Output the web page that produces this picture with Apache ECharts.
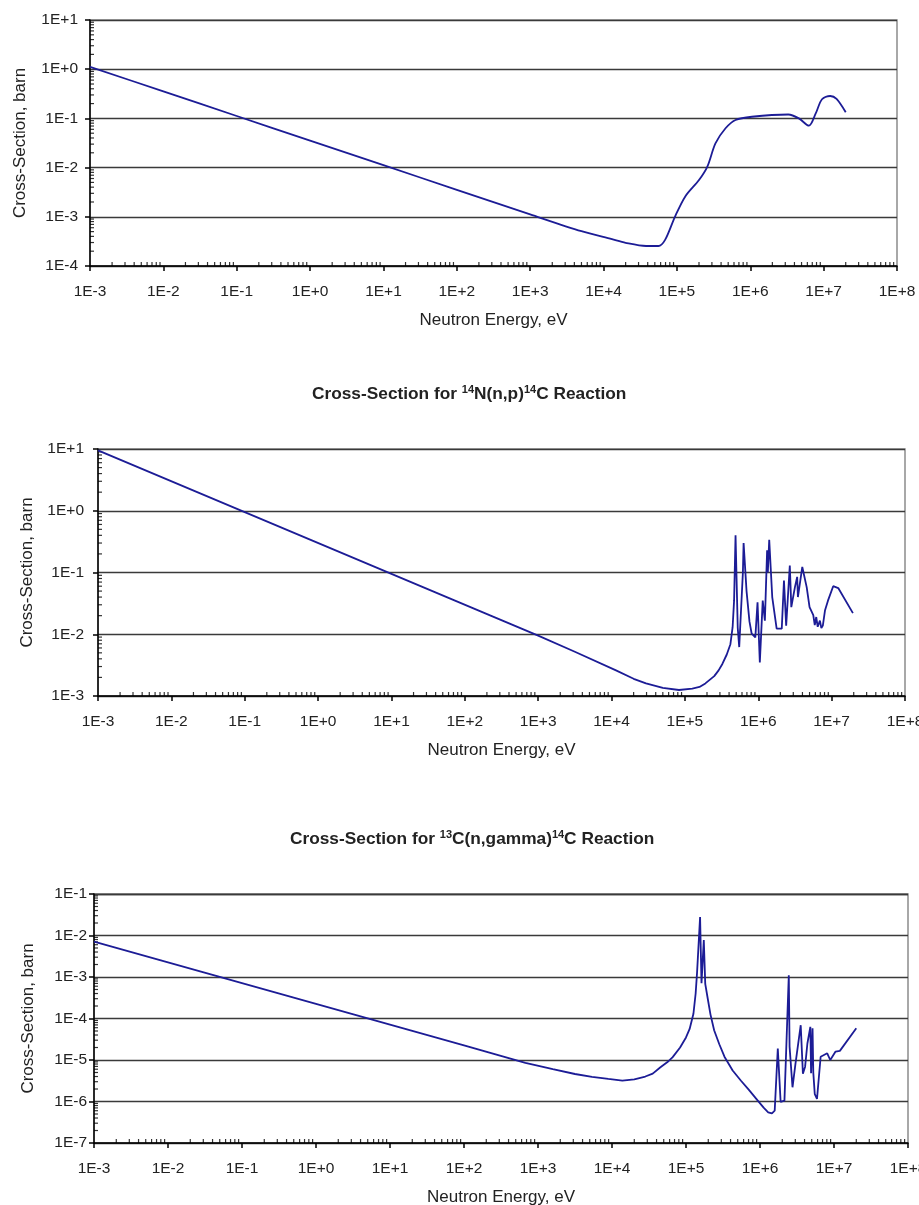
<!DOCTYPE html>
<html><head><meta charset="utf-8">
<script src="https://cdn.jsdelivr.net/npm/echarts@6/dist/echarts.min.js"></script>
<style>html,body{margin:0;padding:0;background:#fff}#c{width:919px;height:1205px}</style>
</head><body><div id="c"></div>
<script>
// ---- data (energy in eV, cross-section in barn) ----
const energy1 = [1e-3, 1e-2, 1e-1, 1, 10, 100, 1e3, 5e3, 1.3e4, 2e4, 3.8e4, 5.6e4, 6.9e4, 9.4e4, 1.3e5, 2.0e5, 2.6e5, 3.35e5, 4.6e5, 6.3e5, 1.05e6, 3.3e6, 4.6e6, 6.3e6, 7.8e6, 9.5e6, 1.23e7, 1.5e7, 2.0e7];
const sigma1  = [1.12, 0.354, 0.112, 0.0354, 0.0112, 3.54e-3, 1.12e-3, 5.1e-4, 3.5e-4, 2.95e-4, 2.55e-4, 2.55e-4, 3.4e-4, 1.0e-3, 2.6e-3, 5.6e-3, 1.05e-2, 3.1e-2, 0.063, 0.093, 0.108, 0.12, 0.10, 0.071, 0.126, 0.245, 0.285, 0.248, 0.133];

const energy2 = [1e-3, 0.1, 10, 1000, 3160, 11500, 20000, 29500, 50000, 83000, 126000, 158000, 190000, 251000, 288000, 324000, 372000, 417000, 447000, 468000, 490000, 525000, 550000, 617000, 631000, 692000, 759000, 813000, 912000, 977000, 1.05e6, 1.15e6, 1.23e6, 1.32e6, 1.35e6, 1.41e6, 1.55e6, 1.78e6, 2.09e6, 2.24e6, 2.4e6, 2.69e6, 2.82e6, 3.16e6, 3.39e6, 3.47e6, 3.98e6, 4.57e6, 5.0e6, 5.62e6, 5.89e6, 6.17e6, 6.46e6, 6.92e6, 7.24e6, 7.59e6, 8.13e6, 8.91e6, 1.05e7, 1.23e7, 1.95e7];
const sigma2  = [9.5, 0.95, 0.095, 0.0095, 5.2e-3, 2.6e-3, 1.9e-3, 1.6e-3, 1.35e-3, 1.25e-3, 1.32e-3, 1.4e-3, 1.6e-3, 2.1e-3, 2.6e-3, 3.3e-3, 4.7e-3, 6.9e-3, 0.013, 0.035, 0.40, 0.0126, 6.2e-3, 0.10, 0.30, 0.05, 0.016, 0.0102, 8.9e-3, 0.033, 3.5e-3, 0.035, 0.0166, 0.23, 0.10, 0.34, 0.04, 0.0123, 0.0123, 0.074, 0.0138, 0.13, 0.0275, 0.058, 0.085, 0.04, 0.123, 0.058, 0.0275, 0.0204, 0.0141, 0.019, 0.0132, 0.0166, 0.0126, 0.0138, 0.0245, 0.035, 0.06, 0.056, 0.022];

const energy3 = [1e-3, 1, 100, 676, 1585, 3160, 5370, 8900, 13800, 20000, 28200, 35500, 44700, 56200, 66100, 83200, 1e5, 112000, 126000, 135000, 141000, 155000, 162000, 174000, 182000, 195000, 214000, 240000, 282000, 331000, 427000, 550000, 708000, 933000, 1.12e6, 1.29e6, 1.45e6, 1.58e6, 1.74e6, 1.9e6, 2.14e6, 2.45e6, 2.51e6, 2.75e6, 3.02e6, 3.55e6, 3.8e6, 4.07e6, 4.37e6, 4.79e6, 4.9e6, 5.13e6, 5.25e6, 5.5e6, 5.89e6, 6.6e6, 8.1e6, 8.9e6, 1.05e7, 1.2e7, 2.0e7];
const sigma3  = [7.1e-3, 2.24e-4, 2.24e-5, 8.5e-6, 6.0e-6, 4.6e-6, 3.9e-6, 3.5e-6, 3.2e-6, 3.4e-6, 4.0e-6, 4.7e-6, 6.6e-6, 8.9e-6, 1.17e-5, 2.0e-5, 3.5e-5, 5.6e-5, 1.3e-4, 4.0e-4, 1.26e-3, 0.028, 7.1e-4, 7.8e-3, 6.8e-4, 3.3e-4, 1.26e-4, 5.2e-5, 2.4e-5, 1.2e-5, 5.6e-6, 3.2e-6, 1.9e-6, 1.05e-6, 7.1e-7, 5.5e-7, 5.2e-7, 6.0e-7, 1.9e-5, 9.8e-7, 1.05e-6, 1.1e-3, 2.1e-5, 2.2e-6, 8.3e-6, 6.9e-5, 4.7e-6, 6.9e-6, 2.5e-5, 6.3e-5, 4.8e-6, 5.8e-5, 5.0e-6, 1.5e-6, 1.15e-6, 1.2e-5, 1.45e-5, 1.0e-5, 1.6e-5, 1.66e-5, 5.8e-5];

// tick labels (exponent -> label)
const xTickExps = [-3, -2, -1, 0, 1, 2, 3, 4, 5, 6, 7, 8];
const xTickLabels = ['1E-3', '1E-2', '1E-1', '1E+0', '1E+1', '1E+2', '1E+3', '1E+4', '1E+5', '1E+6', '1E+7', '1E+8'];
const yTickExps1 = [-4, -3, -2, -1, 0, 1];
const yTickLabels1 = ['1E-4', '1E-3', '1E-2', '1E-1', '1E+0', '1E+1'];
const yTickExps2 = [-3, -2, -1, 0, 1];
const yTickLabels2 = ['1E-3', '1E-2', '1E-1', '1E+0', '1E+1'];
const yTickExps3 = [-7, -6, -5, -4, -3, -2, -1];
const yTickLabels3 = ['1E-7', '1E-6', '1E-5', '1E-4', '1E-3', '1E-2', '1E-1'];

const xName = 'Neutron Energy, eV';
const yName = 'Cross-Section, barn';
const title2 = ['Cross-Section for ', '14', 'N(n,p)', '14', 'C Reaction'];
const title3 = ['Cross-Section for ', '13', 'C(n,gamma)', '14', 'C Reaction'];

// ---- rendering ----
const FONT = '"Liberation Sans", Arial, Helvetica, sans-serif';
const TXT = '#222';
const grids = [
  {left: 90, top: 20, width: 807, height: 246},
  {left: 98, top: 449, width: 807, height: 247},
  {left: 94, top: 894, width: 814, height: 249}
];
const yCfg = [
  {exps: yTickExps1, labels: yTickLabels1, labelMargin: 12, nameGap: 61},
  {exps: yTickExps2, labels: yTickLabels2, labelMargin: 14, nameGap: 62},
  {exps: yTickExps3, labels: yTickLabels3, labelMargin: 7, nameGap: 57}
];
const seriesData = [[energy1, sigma1], [energy2, sigma2], [energy3, sigma3]];
const smoothing = [0.3, false, false];

function fmt(exps, labels) {
  return function (v) {
    const e = Math.round(Math.log10(v));
    const i = exps.indexOf(e);
    return i >= 0 ? labels[i] : '';
  };
}

const xAxes = [], yAxes = [], series = [];
grids.forEach(function (g, i) {
  const yc = yCfg[i];
  const yMin = Math.pow(10, yc.exps[0]);
  const yMax = Math.pow(10, yc.exps[yc.exps.length - 1]);
  const xMin = Math.pow(10, xTickExps[0]);
  const xMax = Math.pow(10, xTickExps[xTickExps.length - 1]);
  xAxes.push({
    type: 'log', logBase: 10, gridIndex: i, min: xMin, max: xMax, interval: 1, splitNumber: 11,
    axisLine: {show: true, onZero: false, lineStyle: {color: '#000', width: 1.5}},
    axisTick: {show: true, length: 5, lineStyle: {color: '#000', width: 1.5}},
    axisLabel: {margin: 18, fontSize: 15.5, color: TXT, fontFamily: FONT, showMinLabel: true, showMaxLabel: true,
      formatter: fmt(xTickExps, xTickLabels)},
    splitLine: {show: false},
    name: xName, nameLocation: 'middle', nameGap: 46,
    nameTextStyle: {fontSize: 17, color: TXT, fontFamily: FONT}
  });
  yAxes.push({
    type: 'log', logBase: 10, gridIndex: i, min: yMin, max: yMax, interval: 1, splitNumber: yc.exps.length - 1,
    axisLine: {show: true, onZero: false, lineStyle: {color: '#000', width: 1.5}},
    axisTick: {show: true, length: 5, lineStyle: {color: '#000', width: 1.5}},
    axisLabel: {margin: yc.labelMargin, fontSize: 15.5, color: TXT, fontFamily: FONT, showMinLabel: true, showMaxLabel: true,
      formatter: fmt(yc.exps, yc.labels)},
    splitLine: {show: true, lineStyle: {color: '#3a3a3a', width: 1.3}},
    name: yName, nameLocation: 'middle', nameGap: yc.nameGap,
    nameTextStyle: {fontSize: 17, color: TXT, fontFamily: FONT}
  });
  const d = seriesData[i];
  series.push({
    type: 'line', xAxisIndex: i, yAxisIndex: i, showSymbol: false, symbol: 'none', smooth: smoothing[i],
    lineStyle: {color: '#1c1c96', width: 1.8}, data: d[0].map(function (e, k) { return [e, d[1][k]]; }),
    z: 5
  });
  // minor tick marks (log positions 2..9 within each decade)
  const xm = [], ym = [];
  for (let n = xTickExps[0]; n < xTickExps[xTickExps.length - 1]; n++) {
    for (let k = 2; k <= 9; k++) xm.push([k * Math.pow(10, n), yMin]);
  }
  for (let n = yc.exps[0]; n < yc.exps[yc.exps.length - 1]; n++) {
    for (let k = 2; k <= 9; k++) ym.push([xMin, k * Math.pow(10, n)]);
  }
  series.push({
    type: 'scatter', xAxisIndex: i, yAxisIndex: i, silent: true, clip: false, z: 4,
    symbol: 'rect', symbolSize: [1.2, 4], symbolOffset: [0, -2], itemStyle: {color: '#000'}, data: xm
  });
  series.push({
    type: 'scatter', xAxisIndex: i, yAxisIndex: i, silent: true, clip: false, z: 4,
    symbol: 'rect', symbolSize: [4, 1.2], symbolOffset: [2, 0], itemStyle: {color: '#000'}, data: ym
  });
});

function richTitle(parts, left, top) {
  return {
    left: left, top: top, padding: 0,
    text: '{b|' + parts[0] + '}{s|' + parts[1] + '}{b|' + parts[2] + '}{s|' + parts[3] + '}{b|' + parts[4] + '}',
    textStyle: {
      rich: {
        b: {fontSize: 17.3, fontWeight: 'bold', color: TXT, fontFamily: FONT, lineHeight: 20, verticalAlign: 'bottom'},
        s: {fontSize: 11, fontWeight: 'bold', color: TXT, fontFamily: FONT, lineHeight: 20, verticalAlign: 'top', padding: [1, 0, 0, 0]}
      }
    }
  };
}

const chart = echarts.init(document.getElementById('c'), null, {renderer: 'canvas'});
chart.setOption({
  animation: false,
  backgroundColor: '#fff',
  title: [richTitle(title2, 312, 383), richTitle(title3, 290, 828)],
  grid: grids.map(function (g) {
    return Object.assign({show: true, borderColor: '#8c8c8c', borderWidth: 1.5, backgroundColor: 'transparent',
      containLabel: false, outerBoundsMode: 'none'}, g);
  }),
  xAxis: xAxes,
  yAxis: yAxes,
  series: series
});
</script>
</body></html>
